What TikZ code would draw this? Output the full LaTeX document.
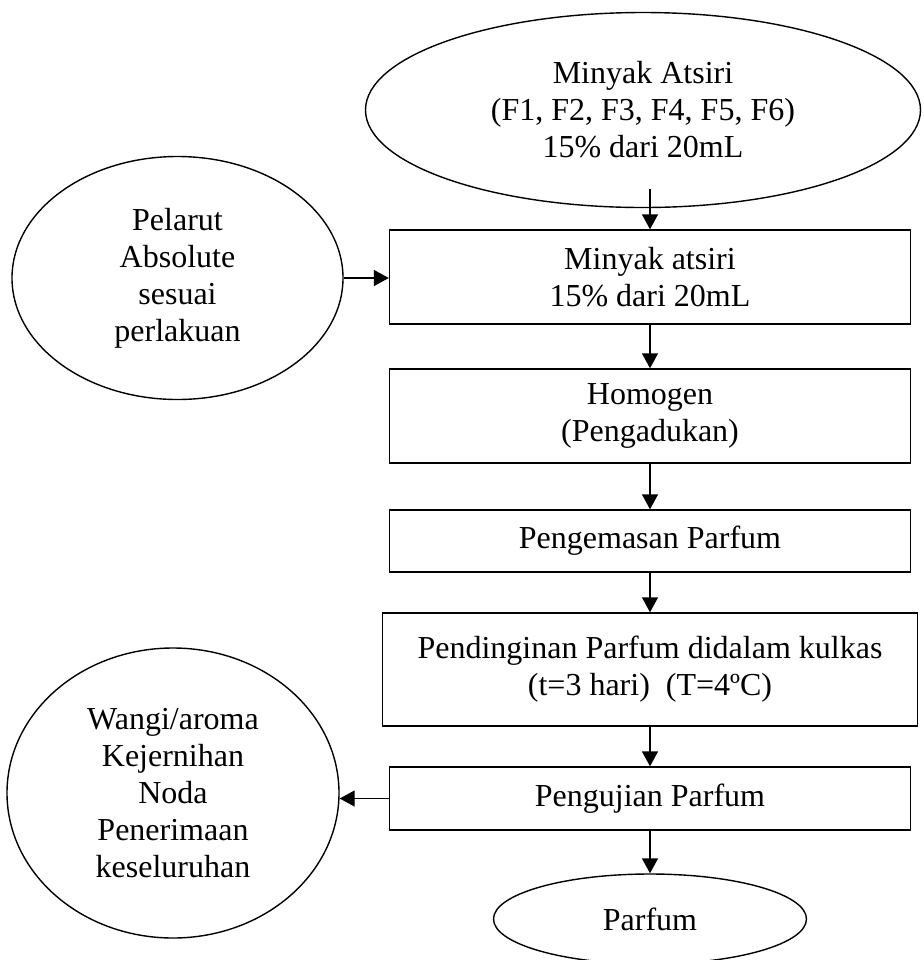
\documentclass[tikz,border=0pt]{standalone}
\usepackage{fontspec}
\setmainfont{Liberation Serif}
\usetikzlibrary{shapes.geometric,arrows.meta}

\begin{document}
\begin{tikzpicture}[x=0.5pt, y=-0.5pt, >={Triangle[length=7.5pt,width=8pt]}, line width=0.7pt,
  every node/.style={font=\fontsize{16}{18.5}\selectfont, align=center, inner sep=0pt},
  proses/.style={draw, rectangle, minimum width=260.5pt},
  bulat/.style={draw, ellipse}]
\useasboundingbox (0,0) rectangle (923,960);
\node[bulat, minimum width=277.5pt, minimum height=97.5pt] (atsiri) at (643,110) {Minyak Atsiri\\(F1, F2, F3, F4, F5, F6)\\15\% dari 20mL};
\node[bulat, minimum width=165.5pt, minimum height=121.5pt] (pelarut) at (177.5,278) {Pelarut\\Absolute\\sesuai\\perlakuan};
\node[proses, minimum height=47pt] (campur) at (650,277) {Minyak atsiri\\15\% dari 20mL};
\node[proses, minimum height=47pt] (homogen) at (650,416) {Homogen\\(Pengadukan)};
\node[proses, minimum height=31pt] (kemas) at (650,541) {Pengemasan Parfum};
\node[proses, minimum width=267.5pt, minimum height=56.5pt] (dingin) at (650,669.5) {Pendinginan Parfum didalam kulkas\\(t=3 hari)\ \ (T=4ºC)};
\node[proses, minimum height=31.5pt] (uji) at (650,798.5) {Pengujian Parfum};
\node[bulat, minimum width=156.5pt, minimum height=45pt] (parfum) at (650,919) {Parfum};
\node[bulat, minimum width=166pt, minimum height=145pt] (kriteria) at (173,793) {Wangi/aroma\\Kejernihan\\Noda\\Penerimaan\\keseluruhan};
\coordinate (atsiri-out) at ([yshift=9.5pt]atsiri.south);
\draw[->] (atsiri-out -| campur.north) -- (campur.north);
\draw[->] (pelarut.east) -- (pelarut.east -| campur.west);
\draw[->] (campur) -- (homogen);
\draw[->] (homogen) -- (kemas);
\draw[->] (kemas) -- (dingin);
\draw[->] (dingin) -- (uji);
\draw[->] (uji) -- (parfum);
\draw[->] (uji.west) -- (uji.west -| kriteria.east);
\end{tikzpicture}
\end{document}
